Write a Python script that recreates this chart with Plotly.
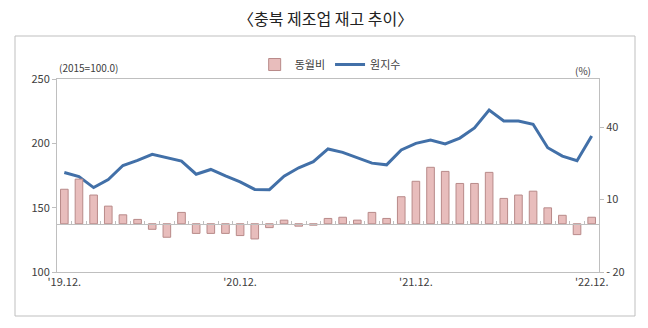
import plotly.graph_objects as go

months = ["19.12"] + [f"{y}.{m:02d}" for y in (20, 21, 22) for m in range(1, 13)]
index_values = [177.3, 174.2, 165.6, 171.9, 182.8, 186.7, 191.4, 188.5, 186.2, 176.0,
                179.7, 174.7, 170.1, 164.2, 164.0, 174.5, 181.0, 185.7, 195.6, 193.0,
                188.5, 184.6, 183.3, 194.9, 200.0, 202.6, 199.6, 204.1, 212.0, 225.8,
                217.4, 217.4, 214.8, 196.6, 190.1, 186.5, 205.7]
yoy_values = [14.3, 18.5, 11.9, 7.3, 3.7, 1.8, -2.3, -5.6, 4.7, -4.0,
              -4.0, -4.0, -4.9, -6.3, -1.6, 1.5, -1.0, -0.6, 2.2, 2.7,
              1.5, 4.7, 2.2, 11.2, 17.6, 23.4, 21.7, 16.7, 16.7, 21.3,
              10.5, 11.9, 13.5, 6.6, 3.5, -4.5, 2.7]
xtick_idx = [0, 12, 24, 36]
xtick_text = ["'19.12.", "'20.12.", "'21.12.", "'22.12."]
left_ticks = [100, 150, 200, 250]
right_ticks = [-20, 10, 40]
right_tick_text = ["- 20", "10", "40"]

FONT = "Noto Sans CJK KR"
AX = "#bfbfbf"
TXT = "#404040"

fig = go.Figure()
fig.add_trace(go.Bar(
    x=months, y=yoy_values, name="동월비", xaxis="x2", yaxis="y2",
    marker=dict(color="#e8bdbc", line=dict(color="#b88a89", width=1)),
    width=0.52,
))
fig.add_trace(go.Scatter(
    x=months, y=index_values, name="원지수", mode="lines",
    line=dict(color="#4270a8", width=3),
))

fig.update_layout(
    width=648, height=328,
    margin=dict(l=57, r=49, t=79, b=56),
    paper_bgcolor="white", plot_bgcolor="white",
    font=dict(family=FONT, size=11, color=TXT),
    showlegend=True,
    legend=dict(orientation="h", x=0.504, xanchor="center", y=1.075, yanchor="middle",
                font=dict(size=11, color=TXT), itemwidth=30, traceorder="normal",
                bgcolor="rgba(0,0,0,0)"),
    bargap=0.4,
    xaxis=dict(type="category", categoryorder="array", categoryarray=months,
               range=[-0.5, len(months) - 0.5],
               tickmode="array", tickvals=[months[i] for i in xtick_idx], ticktext=xtick_text,
               ticks="", showline=True, linecolor=AX, linewidth=1, mirror=True,
               showgrid=False, zeroline=False, tickfont=dict(size=11, color=TXT)),
    xaxis2=dict(type="category", categoryorder="array", categoryarray=months,
                range=[-0.5, len(months) - 0.5], overlaying="x", anchor="free",
                position=0.25, showline=True, linecolor=AX, linewidth=1,
                ticks="inside", tickson="boundaries", ticklen=3, tickcolor=AX,
                tickmode="linear", tick0=0, dtick=1,
                showticklabels=False, showgrid=False, zeroline=False),
    yaxis=dict(range=[100, 250], tickvals=left_ticks, ticks="outside", ticklen=4,
               tickcolor=AX, showline=True, linecolor=AX, linewidth=1,
               showgrid=False, zeroline=False, tickfont=dict(size=11, color=TXT)),
    yaxis2=dict(range=[-20, 60], tickvals=right_ticks, ticktext=right_tick_text,
                overlaying="y", side="right", ticks="outside", ticklen=4,
                tickcolor=AX, showline=True, linecolor=AX, linewidth=1,
                showgrid=False, zeroline=False, tickfont=dict(size=11, color=TXT)),
)

fig.add_shape(type="rect", xref="paper", yref="paper",
              x0=(15 - 57) / 542, x1=(635 - 57) / 542,
              y0=(272 - 316) / 193, y1=(272 - 36) / 193,
              line=dict(color=AX, width=1), fillcolor="rgba(0,0,0,0)", layer="below")

fig.add_annotation(text="〈충북 제조업 재고 추이〉", xref="paper", yref="paper",
                   x=(325 - 57) / 542, y=(272 - 18) / 193, showarrow=False,
                   font=dict(size=16, color="#222222", family=FONT),
                   xanchor="center", yanchor="middle")
fig.add_annotation(text="(2015=100.0)", xref="paper", yref="paper",
                   x=(89 - 57) / 542, y=(272 - 67) / 193, showarrow=False,
                   font=dict(size=10, color=TXT), xanchor="center", yanchor="middle")
fig.add_annotation(text="(%)", xref="paper", yref="paper",
                   x=(583 - 57) / 542, y=(272 - 70) / 193, showarrow=False,
                   font=dict(size=10, color=TXT), xanchor="center", yanchor="middle")

fig.write_html("out.html")
